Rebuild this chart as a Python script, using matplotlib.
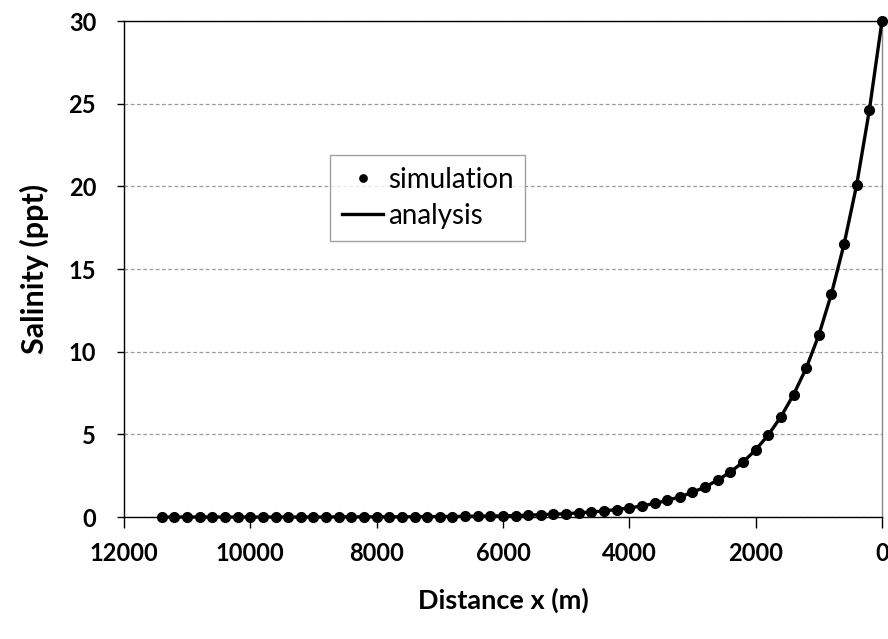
import matplotlib.pyplot as plt

# Salinity, every 200 m from the mouth (x = 0) upstream
distance_m = [0, 200, 400, 600, 800, 1000, 1200, 1400, 1600, 1800,
              2000, 2200, 2400, 2600, 2800, 3000, 3200, 3400, 3600, 3800,
              4000, 4200, 4400, 4600, 4800, 5000, 5200, 5400, 5600, 5800,
              6000, 6200, 6400, 6600, 6800, 7000, 7200, 7400, 7600, 7800,
              8000, 8200, 8400, 8600, 8800, 9000, 9200, 9400, 9600, 9800,
              10000, 10200, 10400, 10600, 10800, 11000, 11200, 11400]
simulation_ppt = [30.0, 24.6, 20.1, 16.5, 13.5, 11.0, 9.0, 7.4, 6.06, 4.96,
                  4.06, 3.32, 2.72, 2.23, 1.82, 1.49, 1.22, 1.00, 0.82, 0.67,
                  0.55, 0.45, 0.37, 0.30, 0.25, 0.20, 0.17, 0.14, 0.11, 0.09,
                  0.07, 0.06, 0.05, 0.04, 0.03, 0.03, 0.02, 0.02, 0.015, 0.01,
                  0.01, 0.01, 0.01, 0.01, 0.0, 0.0, 0.0, 0.0, 0.0, 0.0,
                  0.0, 0.0, 0.0, 0.0, 0.0, 0.0, 0.0, 0.0]
# the analytical curve passes through the same readings
analysis_ppt = simulation_ppt

x_ticks = [12000, 10000, 8000, 6000, 4000, 2000, 0]
y_ticks = [0, 5, 10, 15, 20, 25, 30]

plt.rcParams['font.family'] = ['Lato', 'DejaVu Sans']

fig = plt.figure(figsize=(8.88, 6.39), dpi=100)
ax = fig.add_axes([0.1396, 0.1909, 0.8536, 0.7762])

ax.plot(distance_m, analysis_ppt, color='black', lw=2.4, label='analysis',
        zorder=3, clip_on=False)
ax.plot(distance_m, simulation_ppt, 'o', color='black', ms=7, label='simulation',
        zorder=4, clip_on=False)

ax.set_xlim(12000, 0)
ax.set_ylim(0, 30)
ax.set_xticks(x_ticks)
ax.set_yticks(y_ticks)
ax.set_xticklabels([str(t) for t in x_ticks], fontsize=17, fontweight='bold')
ax.set_yticklabels([str(t) for t in y_ticks], fontsize=17, fontweight='bold')
ax.tick_params(axis='x', direction='out', length=8, width=1, pad=10)
ax.tick_params(axis='y', direction='out', length=5, width=1, pad=15)

ax.grid(True, axis='y', linestyle=(0, (3, 2)), color='#999999', lw=0.9)
ax.set_axisbelow(True)

ax.spines['left'].set_color('black')
ax.spines['bottom'].set_color('black')
ax.spines['top'].set_color('black')
ax.spines['right'].set_color('#888888')
for s in ax.spines.values():
    s.set_linewidth(1.0)

ax.set_xlabel('Distance x (m)', fontsize=19.5, fontweight='bold', labelpad=16)
ax.set_ylabel('Salinity (ppt)', fontsize=22, fontweight='bold', labelpad=14)

handles, labels = ax.get_legend_handles_labels()
leg = ax.legend([handles[1], handles[0]], [labels[1], labels[0]],
                loc='upper left', bbox_to_anchor=(0.272, 0.730),
                borderaxespad=0, fontsize=20, frameon=True, fancybox=False,
                handlelength=1.5, handletextpad=0.15, borderpad=0.42,
                labelspacing=0.38, markerscale=0.75)
leg.get_frame().set_edgecolor('#888888')
leg.get_frame().set_linewidth(1.0)

fig.savefig('out.png', dpi=100)
